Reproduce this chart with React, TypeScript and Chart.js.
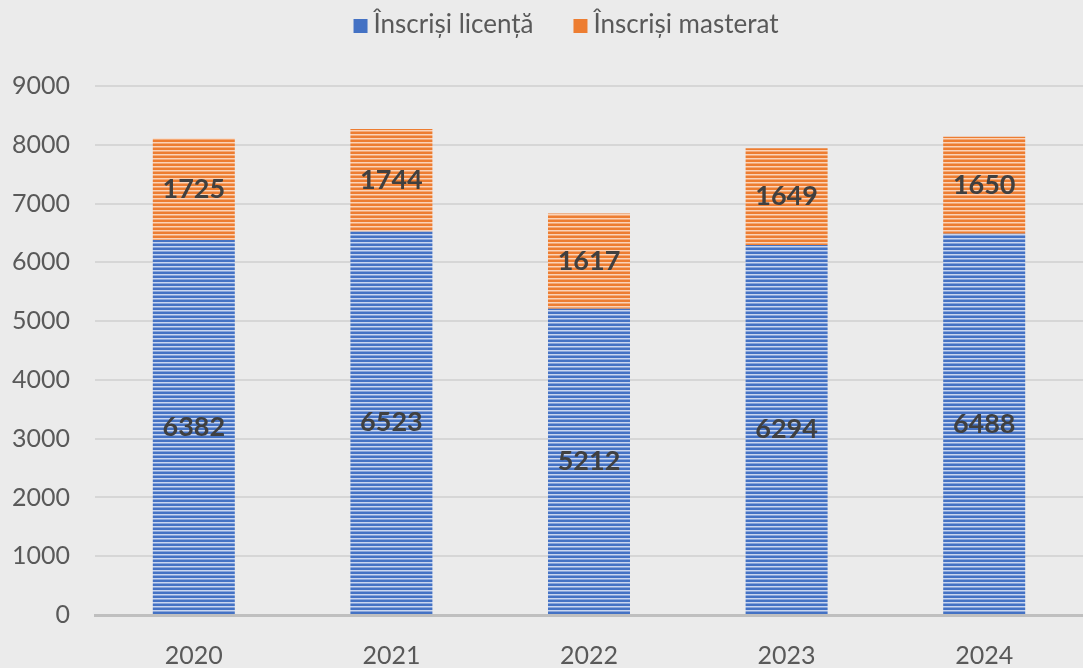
import React, { useEffect, useRef } from "react";
import { Chart, registerables } from "chart.js";

Chart.register(...registerables);

const categories = ["2020", "2021", "2022", "2023", "2024"];
const licentaValues = [6382, 6523, 5212, 6294, 6488];
const masteratValues = [1725, 1744, 1617, 1649, 1650];
const seriesNames = ["Înscriși licență", "Înscriși masterat"];
const seriesColors = ["#4472c4", "#ed7d31"];
const yTicks = [0, 1000, 2000, 3000, 4000, 5000, 6000, 7000, 8000, 9000];

const FONT = "Lato, 'Open Sans', sans-serif";

function makeStripe(base: string, light: string): CanvasPattern | string {
  const c = document.createElement("canvas");
  c.width = 4;
  c.height = 4;
  const g = c.getContext("2d");
  if (!g) return base;
  g.fillStyle = base;
  g.fillRect(0, 0, 4, 4);
  g.fillStyle = light;
  g.fillRect(0, 2, 4, 1);
  g.globalAlpha = 0.5;
  g.fillRect(0, 3, 4, 1);
  const p = g.createPattern(c, "repeat");
  return p || base;
}

const labelPlugin = {
  id: "segLabels",
  afterDatasetsDraw(chart: any) {
    const ctx = chart.ctx;
    ctx.save();
    ctx.font = `bold 27px ${FONT}`;
    ctx.fillStyle = "#404040";
    ctx.textAlign = "center";
    ctx.textBaseline = "middle";
    chart.data.datasets.forEach((ds: any, di: number) => {
      const meta = chart.getDatasetMeta(di);
      meta.data.forEach((bar: any, i: number) => {
        const y = (bar.y + bar.base) / 2;
        ctx.fillText(String(ds.data[i]), bar.x, y);
      });
    });
    ctx.restore();
  },
};

const customLegend = {
  id: "customLegend",
  afterDraw(chart: any) {
    const ctx = chart.ctx;
    ctx.save();
    ctx.font = `26px ${FONT}`;
    ctx.textBaseline = "middle";
    ctx.textAlign = "left";
    const box = 14;
    const gap = 6;
    const itemGap = 40;
    const widths = chart.data.datasets.map((d: any) => ctx.measureText(d.label).width);
    const total =
      widths.reduce((a: number, b: number) => a + b, 0) +
      widths.length * (box + gap) +
      itemGap * (widths.length - 1);
    const cx = 566;
    const cy = 25;
    let x = cx - total / 2;
    chart.data.datasets.forEach((d: any, i: number) => {
      ctx.fillStyle = seriesColors[i];
      ctx.fillRect(x, cy - box / 2 + 1, box, box);
      x += box + gap;
      ctx.fillStyle = "#595959";
      ctx.fillText(d.label, x, cy);
      x += widths[i] + itemGap;
    });
    ctx.restore();
  },
};

export default function App() {
  const ref = useRef<HTMLCanvasElement>(null);
  useEffect(() => {
    document.body.style.margin = "0";
    document.body.style.background = "#ebebeb";
    const canvas = ref.current;
    if (!canvas) return;
    const blue = makeStripe(seriesColors[0], "#c9d6f0");
    const orange = makeStripe(seriesColors[1], "#fbd3b8");
    const chart = new Chart(canvas, {
      type: "bar",
      data: {
        labels: categories,
        datasets: [
          {
            label: seriesNames[0],
            data: licentaValues,
            backgroundColor: blue as any,
            borderWidth: 0,
            categoryPercentage: 0.83,
            barPercentage: 0.5,
          },
          {
            label: seriesNames[1],
            data: masteratValues,
            backgroundColor: orange as any,
            borderWidth: 0,
            categoryPercentage: 0.83,
            barPercentage: 0.5,
          },
        ],
      },
      options: {
        animation: false,
        responsive: false,
        maintainAspectRatio: false,
        layout: { padding: { top: 86, right: 0, left: 0, bottom: 0 } },
        plugins: {
          legend: { display: false },
          tooltip: { enabled: false },
        },
        scales: {
          x: {
            stacked: true,
            afterFit: (s: any) => {
              s.height = 53;
            },
            grid: { display: false, drawTicks: false },
            border: { display: true, color: "#bfbfbf", width: 3 },
            ticks: {
              font: { family: FONT, size: 25 },
              color: "#595959",
              padding: 26,
            },
          },
          y: {
            stacked: true,
            min: 0,
            max: 9000,
            afterFit: (s: any) => {
              s.width = 95;
            },
            afterBuildTicks: (s: any) => {
              s.ticks = yTicks.map((v) => ({ value: v }));
            },
            grid: { color: "#d6d6d6", lineWidth: 2, drawTicks: false },
            border: { display: false },
            ticks: {
              font: { family: FONT, size: 25 },
              color: "#595959",
              padding: 25,
              callback: (v: any) => String(v),
            },
          },
        },
      },
      plugins: [labelPlugin, customLegend],
    });
    return () => chart.destroy();
  }, []);
  return (
    <div style={{ width: 1083, height: 668, background: "#ebebeb" }}>
      <canvas ref={ref} width={1083} height={668} style={{ width: 1083, height: 668, display: "block" }} />
    </div>
  );
}
